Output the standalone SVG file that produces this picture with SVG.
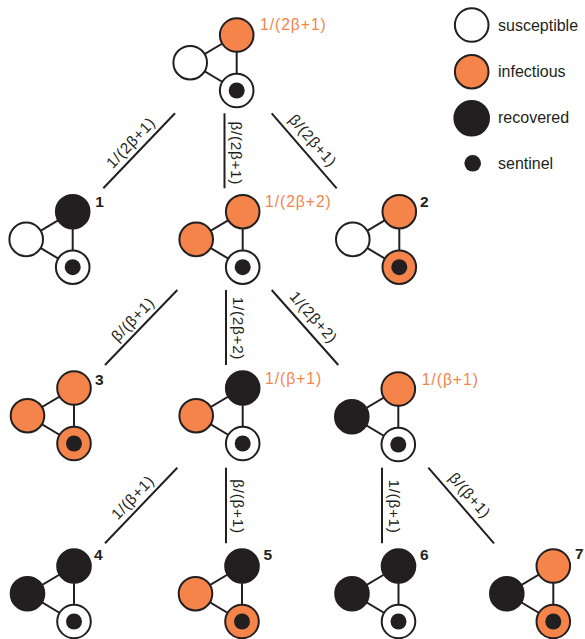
<svg xmlns="http://www.w3.org/2000/svg" width="585" height="639" viewBox="0 0 585 639">
<style>
  .bg{fill:#ffffff}
  .e line, .edge{stroke:#231F20;stroke-width:2;fill:none}
  .s{fill:#ffffff;stroke:#231F20;stroke-width:2}
  .i{fill:#F4844A;stroke:#231F20;stroke-width:2}
  .r{fill:#231F20;stroke:#231F20;stroke-width:2}
  .dot{fill:#231F20}
  .lbl{font-family:"Liberation Sans",Arial,sans-serif;font-size:15.3px;fill:#231F20;letter-spacing:0.7px;text-anchor:middle}
  .rate{font-family:"Liberation Sans",Arial,sans-serif;font-size:15.6px;fill:#F4844A;letter-spacing:1px}
  .num{font-family:"Liberation Sans",Arial,sans-serif;font-size:15.5px;font-weight:bold;fill:#231F20}
  .leg{font-family:"Liberation Sans",Arial,sans-serif;font-size:16px;fill:#231F20}
</style>
<defs>
  <g id="links" class="e">
    <line x1="0" y1="0" x2="-46.5" y2="27.7"/>
    <line x1="-46.5" y1="27.7" x2="0" y2="55.5"/>
    <line x1="0" y1="0" x2="0" y2="55.5"/>
  </g>
</defs>
<rect class="bg" x="0" y="0" width="585" height="639"/>

<g id="connectors">
  <line class="edge" x1="175" y1="113.3" x2="103.3" y2="188.3"/>
  <line class="edge" x1="224.5" y1="113.3" x2="224.5" y2="188.3"/>
  <line class="edge" x1="271.7" y1="113.3" x2="336.7" y2="188.3"/>
  <line class="edge" x1="177.3" y1="290" x2="105" y2="365"/>
  <line class="edge" x1="226" y1="290" x2="226" y2="365"/>
  <line class="edge" x1="271.7" y1="290" x2="338.3" y2="365"/>
  <line class="edge" x1="177.3" y1="467.7" x2="105" y2="543.3"/>
  <line class="edge" x1="226" y1="467.7" x2="226" y2="543.3"/>
  <line class="edge" x1="382" y1="467.7" x2="382" y2="543.3"/>
  <line class="edge" x1="428.3" y1="467.7" x2="494" y2="543.3"/>
  <text class="lbl" transform="translate(139.2,150.8) rotate(-46.3)" x="0" y="-6.5">1/(2β+1)</text>
  <text class="lbl" transform="translate(224.5,150.8) rotate(90)" x="2.5" y="-6.5">β/(2β+1)</text>
  <text class="lbl" transform="translate(304.2,150.8) rotate(49.1)" x="-2" y="-8">β/(2β+1)</text>
  <text class="lbl" transform="translate(141.2,327.5) rotate(-46)" x="0" y="-6.5">β/(β+1)</text>
  <text class="lbl" transform="translate(226,327.5) rotate(90)" x="1" y="-6.5">1/(2β+2)</text>
  <text class="lbl" transform="translate(305,327.5) rotate(48.4)" x="-2" y="-8">1/(2β+2)</text>
  <text class="lbl" transform="translate(141.2,505.5) rotate(-46.3)" x="0" y="-6.5">1/(β+1)</text>
  <text class="lbl" transform="translate(226,505.5) rotate(90)" x="1" y="-6.5">β/(β+1)</text>
  <text class="lbl" transform="translate(382,505.5) rotate(90)" x="1" y="-6.5">1/(β+1)</text>
  <text class="lbl" transform="translate(461.2,505.5) rotate(49)" x="-2" y="-8">β/(β+1)</text>
</g>

<g id="node-top" transform="translate(236.7,35)">
  <use href="#links"/>
  <circle class="i" cx="0" cy="0" r="16.8"/>
  <circle class="s" cx="-46.5" cy="27.7" r="16.8"/>
  <circle class="s" cx="0" cy="55.5" r="16.8"/>
  <circle class="dot" cx="0" cy="55.5" r="8"/>
  <text class="rate" x="23.3" y="-5">1/(2β+1)</text>
</g>

<g id="node-1" transform="translate(72.7,211.7)">
  <use href="#links"/>
  <circle class="r" cx="0" cy="0" r="16.8"/>
  <circle class="s" cx="-46.5" cy="27.7" r="16.8"/>
  <circle class="s" cx="0" cy="55.5" r="16.8"/>
  <circle class="dot" cx="0" cy="55.5" r="8"/>
  <text class="num" x="22.5" y="-4.5">1</text>
</g>

<g id="node-mid2" transform="translate(242.7,211.7)">
  <use href="#links"/>
  <circle class="i" cx="0" cy="0" r="16.8"/>
  <circle class="i" cx="-46.5" cy="27.7" r="16.8"/>
  <circle class="s" cx="0" cy="55.5" r="16.8"/>
  <circle class="dot" cx="0" cy="55.5" r="8"/>
  <text class="rate" x="22.3" y="-4.7">1/(2β+2)</text>
</g>

<g id="node-2" transform="translate(399.3,211.7)">
  <use href="#links"/>
  <circle class="i" cx="0" cy="0" r="16.8"/>
  <circle class="s" cx="-46.5" cy="27.7" r="16.8"/>
  <circle class="i" cx="0" cy="55.5" r="16.8"/>
  <circle class="dot" cx="0" cy="55.5" r="8"/>
  <text class="num" x="20.7" y="-4.7">2</text>
</g>

<g id="node-3" transform="translate(74,388)">
  <use href="#links"/>
  <circle class="i" cx="0" cy="0" r="16.8"/>
  <circle class="i" cx="-46.5" cy="27.7" r="16.8"/>
  <circle class="i" cx="0" cy="55.5" r="16.8"/>
  <circle class="dot" cx="0" cy="55.5" r="8"/>
  <text class="num" x="21" y="-3">3</text>
</g>

<g id="node-mid3" transform="translate(242.7,388)">
  <use href="#links"/>
  <circle class="r" cx="0" cy="0" r="16.8"/>
  <circle class="i" cx="-46.5" cy="27.7" r="16.8"/>
  <circle class="s" cx="0" cy="55.5" r="16.8"/>
  <circle class="dot" cx="0" cy="55.5" r="8"/>
  <text class="rate" x="22.3" y="-4">1/(β+1)</text>
</g>

<g id="node-right3" transform="translate(398.3,389)">
  <use href="#links"/>
  <circle class="i" cx="0" cy="0" r="16.8"/>
  <circle class="r" cx="-46.5" cy="27.7" r="16.8"/>
  <circle class="s" cx="0" cy="55.5" r="16.8"/>
  <circle class="dot" cx="0" cy="55.5" r="8"/>
  <text class="rate" x="23.4" y="-4">1/(β+1)</text>
</g>

<g id="node-4" transform="translate(74,566)">
  <use href="#links"/>
  <circle class="r" cx="0" cy="0" r="16.8"/>
  <circle class="r" cx="-46.5" cy="27.7" r="16.8"/>
  <circle class="s" cx="0" cy="55.5" r="16.8"/>
  <circle class="dot" cx="0" cy="55.5" r="8"/>
  <text class="num" x="20" y="-6.5">4</text>
</g>

<g id="node-5" transform="translate(242,566)">
  <use href="#links"/>
  <circle class="r" cx="0" cy="0" r="16.8"/>
  <circle class="i" cx="-46.5" cy="27.7" r="16.8"/>
  <circle class="i" cx="0" cy="55.5" r="16.8"/>
  <circle class="dot" cx="0" cy="55.5" r="8"/>
  <text class="num" x="21.5" y="-6.5">5</text>
</g>

<g id="node-6" transform="translate(398.5,566)">
  <use href="#links"/>
  <circle class="r" cx="0" cy="0" r="16.8"/>
  <circle class="r" cx="-46.5" cy="27.7" r="16.8"/>
  <circle class="s" cx="0" cy="55.5" r="16.8"/>
  <circle class="dot" cx="0" cy="55.5" r="8"/>
  <text class="num" x="21.5" y="-6.5">6</text>
</g>

<g id="node-7" transform="translate(553.3,566)">
  <use href="#links"/>
  <circle class="i" cx="0" cy="0" r="16.8"/>
  <circle class="r" cx="-46.5" cy="27.7" r="16.8"/>
  <circle class="i" cx="0" cy="55.5" r="16.8"/>
  <circle class="dot" cx="0" cy="55.5" r="8"/>
  <text class="num" x="21.7" y="-7">7</text>
</g>

<g id="legend">
  <circle class="s" cx="471.7" cy="25" r="16.8"/>
  <text class="leg" x="498" y="31">susceptible</text>
  <circle class="i" cx="471.7" cy="71.7" r="16.8"/>
  <text class="leg" x="498" y="77">infectious</text>
  <circle class="r" cx="471.7" cy="118.3" r="17.3"/>
  <text class="leg" x="498" y="123">recovered</text>
  <circle class="dot" cx="472.7" cy="163.3" r="8.3"/>
  <text class="leg" x="498" y="168.5">sentinel</text>
</g>
</svg>
